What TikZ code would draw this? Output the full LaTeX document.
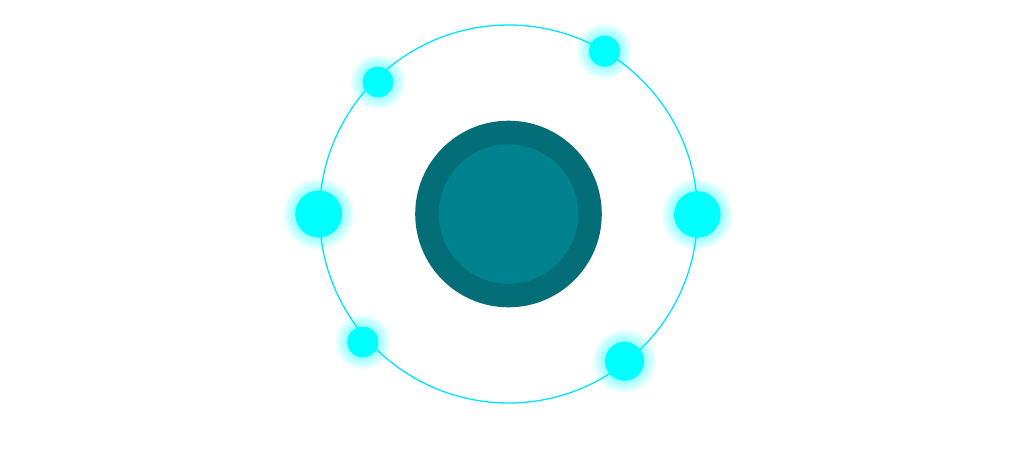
\documentclass[tikz,border=0pt]{standalone}
\definecolor{orbit}{HTML}{00E5FF}
\definecolor{dotc}{HTML}{00FFFF}
\definecolor{coreouter}{HTML}{046E78}
\definecolor{coreinner}{HTML}{00838F}
\tikzset{
  orbitline/.style={draw=orbit, line width=1.3pt},
  glowdot/.pic={
    \foreach \k in {14,13,...,1}{
      \fill[dotc, opacity=0.03] (0,0) circle ({\dotr+\k*0.9pt});
    }
    \fill[dotc] (0,0) circle (\dotr);
  }
}
\begin{document}
\begin{tikzpicture}[x=1pt,y=-1pt]
\useasboundingbox[fill=white] (0,0) rectangle (1010,448);
\coordinate (center) at (508.5,214);
\draw[orbitline] (center) circle (189);
\fill[coreouter] (center) circle (93.3);
\fill[coreinner] (center) circle (69.7);
\foreach \name/\x/\y/\r in {dl/318.7/214/23.5, dr/697.3/214.5/23.3, dtr/604.5/51.2/15.5, dtl/378/82/15.3, dbl/362.8/342/15.5, dbr/624.5/361.3/19.5}{
  \def\dotr{\r}
  \coordinate (\name) at (\x,\y);
  \pic at (\name) {glowdot};
}
\end{tikzpicture}
\end{document}
